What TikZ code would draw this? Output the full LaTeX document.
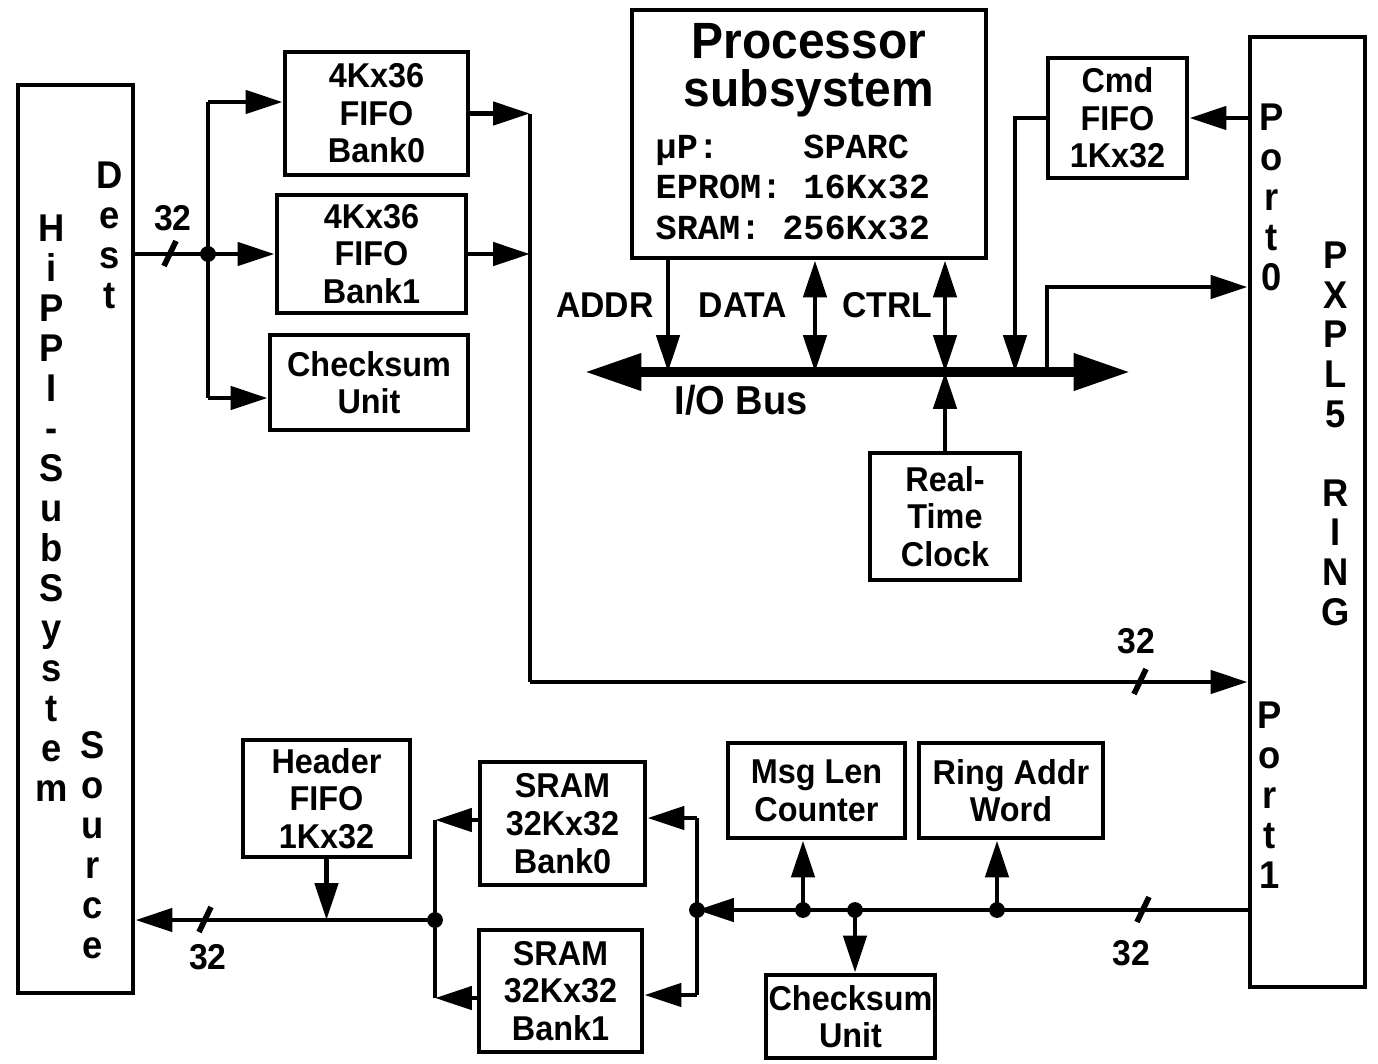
\documentclass[tikz,border=0pt]{standalone}
\usepackage{fontspec}
\setmainfont{Liberation Sans}[FakeStretch=0.94]
\newfontfamily\specfont{Liberation Mono}[BoldFont={Liberation Mono Bold}]
\usetikzlibrary{arrows.meta,positioning}

\tikzset{
  blk/.style={draw, line width=1.4pt, inner sep=0pt, align=center,
    font=\bfseries\fontsize{9.8}{10.7}\selectfont},
  sz/.style 2 args={minimum width=#1*0.01cm, minimum height=#2*0.01cm},
  wire/.style={line width=1.4pt},
  arr/.style={wire, -{Triangle[length=10.5pt,width=6.5pt]}},
  dbl/.style={wire, {Triangle[length=10.5pt,width=6.5pt]}-{Triangle[length=10.5pt,width=6.5pt]}},
  bus/.style={line width=2.7pt, {Triangle[length=16pt,width=10pt]}-{Triangle[length=16pt,width=10pt]}},
  slash/.style={line width=1.6pt},
  lbl/.style={font=\bfseries\fontsize{10.2}{12}\selectfont, inner sep=0pt},
  ltr/.style={font=\bfseries\fontsize{11}{12}\selectfont, inner sep=0pt,
    text height=7.8pt, text depth=0pt},
  dot/.style={fill, circle, inner sep=0pt, minimum size=4.5pt}
}

\begin{document}
\begin{tikzpicture}[x=0.01cm, y=-0.01cm]
\useasboundingbox (0,0) rectangle (1378,1063);

\node[blk, sz={115}{908}] (hippi) at (75.5,539) {};
\node[blk, sz={115}{950}] (pxpl) at (1307.5,512) {};

\node[blk, sz={183}{123}] (fifoa) at (376.5,113.5) {4Kx36\\FIFO\\Bank0};
\node[blk, sz={189}{118}] (fifob) at (371.5,254) {4Kx36\\FIFO\\Bank1};
\node[blk, sz={198}{95}] (csuma) at (369,382.5) {Checksum\\Unit};

\node[blk, sz={354}{248}] (proc) at (809,134) {};
\node[lbl, align=center, font=\bfseries\fontsize{14.5}{13.7}\selectfont] (proctitle) at (809,70) {Processor\\subsystem};
\node[lbl, align=left, anchor=west, font=\specfont\bfseries\fontsize{10}{11.5}\selectfont] (procspec) at (655,187) {µP:~~~~SPARC\\EPROM:~16Kx32\\SRAM:~256Kx32};

\node[blk, sz={139}{120}] (cmd) at (1117.5,118) {Cmd\\FIFO\\1Kx32};
\node[blk, sz={150}{127}] (rtc) at (945,516.5) {Real-\\Time\\Clock};

\node[blk, sz={167}{117}] (hdr) at (326.5,798.5) {Header\\FIFO\\1Kx32};
\node[blk, sz={165}{123}] (srama) at (562.5,823.5) {SRAM\\32Kx32\\Bank0};
\node[blk, sz={163}{122}] (sramb) at (560.5,991) {SRAM\\32Kx32\\Bank1};
\node[blk, sz={177}{95}] (msg) at (816.5,790.5) {Msg Len\\Counter};
\node[blk, sz={184}{95}] (ring) at (1011,790.5) {Ring Addr\\Word};
\node[blk, sz={169}{83}] (csumb) at (850.5,1016.5) {Checksum\\Unit};

\foreach \c [count=\i from 0] in {H,i,P,P,I,-,S,u,b,S,y,s,t,e,m}
  \node[ltr] (hl\i) at (52,228+40*\i) {\c};
\foreach \c [count=\i from 0] in {D,e,s,t}
  \node[ltr] (dl\i) at (110,175+40*\i) {\c};
\foreach \c [count=\i from 0] in {S,o,u,r,c,e}
  \node[ltr] (sl\i) at (93,745+40*\i) {\c};
\foreach \c [count=\i from 0] in {P,o,r,t,0}
  \node[ltr] (pa\i) at (1272,117+40*\i) {\c};
\foreach \c [count=\i from 0] in {P,X,P,L,5,{},R,I,N,G}
  \node[ltr] (rl\i) at (1336,255+39.6*\i) {\c};
\foreach \c [count=\i from 0] in {P,o,r,t,1}
  \node[ltr] (pb\i) at (1270,715+40*\i) {\c};

% destination side
\coordinate (jd) at (208,254);
\coordinate (ja) at (208,102);
\coordinate (jc) at (208,398);
\draw[arr] (hippi.east |- jd) -- (fifob.west |- jd);
\draw[wire] (ja) -- (jc);
\draw[arr] (ja) -- (ja -| fifoa.west);
\draw[arr] (jc) -- (jc -| csuma.west);
\node[dot] (dd) at (jd) {};
\draw[slash] (164,266) -- (176,241);
\node[lbl] (n32a) at (173,218) {32};

\coordinate (jr) at (530,682);
\draw[wire] (fifoa.east -| jr) -- (jr);
\draw[arr] (fifoa.east) -- (fifoa.east -| jr);
\draw[arr] (fifob.east) -- (fifob.east -| jr);
\draw[arr] (jr) -- (jr -| pxpl.west);
\draw[slash] (1134,694) -- (1146,669);
\node[lbl] (n32b) at (1136,641) {32};

% processor and bus
\coordinate (bl) at (585,372);
\coordinate (br) at (1130,372);
\coordinate (ba) at (668,372);
\coordinate (bd) at (815,372);
\coordinate (bc) at (945,372);
\coordinate (bk) at (1015,372);
\coordinate (bp) at (1047,372);
\coordinate (pp) at (1047,287);
\draw[bus] (bl) -- (br);
\node[lbl, font=\bfseries\fontsize{11.5}{12}\selectfont] (iob) at (741,400) {I/O Bus};
\draw[arr] (proc.south -| ba) -- (ba);
\draw[dbl] (proc.south -| bd) -- (bd);
\draw[dbl] (proc.south -| bc) -- (bc);
\node[lbl] (addr) at (605,305) {ADDR};
\node[lbl] (data) at (743,305) {DATA};
\node[lbl] (ctrl) at (887,305) {CTRL};
\draw[arr] (rtc.north) -- (bc);
\draw[arr] (pxpl.west |- cmd) -- (cmd.east);
\draw[arr] (cmd.west) -| (bk);
\draw[arr] (bp) -- (pp) -- (pp -| pxpl.west);

% source side
\coordinate (jp) at (697,910);
\coordinate (j1) at (803,910);
\coordinate (j2) at (855,910);
\coordinate (j3) at (997,910);
\coordinate (s0) at (697,818);
\coordinate (s1) at (697,995);
\draw[arr] (pxpl.west |- jp) -- (jp);
\draw[arr] (j1) -- (j1 |- msg.south);
\draw[arr] (j2) -- (j2 |- csumb.north);
\draw[arr] (j3) -- (j3 |- ring.south);
\draw[wire] (s0) -- (s1);
\draw[arr] (s0) -- (s0 -| srama.east);
\draw[arr] (s1) -- (s1 -| sramb.east);
\node[dot] (dp) at (jp) {};
\node[dot] (d1) at (j1) {};
\node[dot] (d2) at (j2) {};
\node[dot] (d3) at (j3) {};
\draw[slash] (1137,922) -- (1149,897);
\node[lbl] (n32c) at (1131,953) {32};

\coordinate (t0) at (435,820);
\coordinate (t1) at (435,998);
\coordinate (jt) at (435,920);
\draw[arr] (srama.west |- t0) -- (t0);
\draw[arr] (sramb.west |- t1) -- (t1);
\draw[wire] (t0) -- (t1);
\draw[arr] (jt) -- (jt -| hippi.east);
\draw[arr] (hdr.south) -- (hdr.south |- jt);
\node[dot] (dt) at (jt) {};
\draw[slash] (199,932) -- (211,907);
\node[lbl] (n32d) at (208,957) {32};
\end{tikzpicture}
\end{document}
